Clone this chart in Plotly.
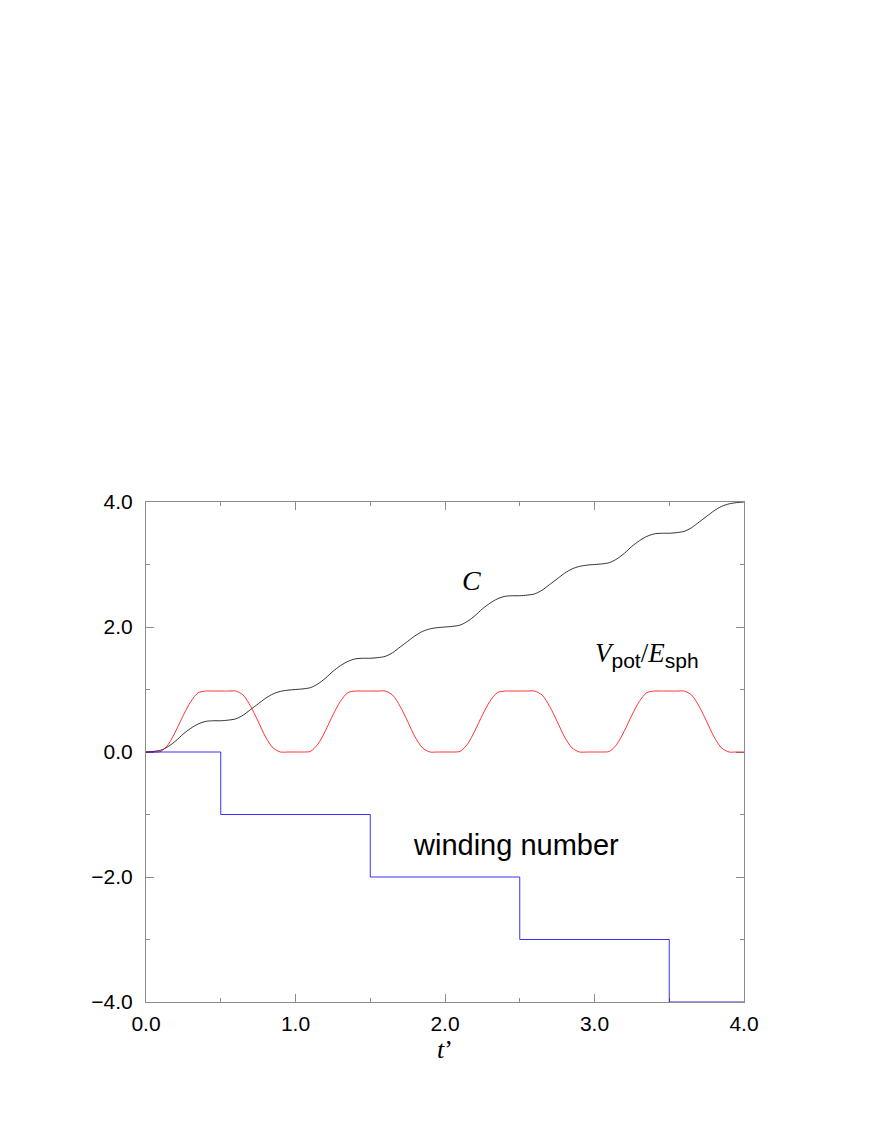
import plotly.graph_objects as go

# time grid t'
T = [0.00, 0.05, 0.10, 0.15, 0.20, 0.25, 0.30, 0.35, 0.40, 0.45,
     0.50, 0.55, 0.60, 0.65, 0.70, 0.75, 0.80, 0.85, 0.90, 0.95,
     1.00, 1.05, 1.10, 1.15, 1.20, 1.25, 1.30, 1.35, 1.40, 1.45,
     1.50, 1.55, 1.60, 1.65, 1.70, 1.75, 1.80, 1.85, 1.90, 1.95,
     2.00, 2.05, 2.10, 2.15, 2.20, 2.25, 2.30, 2.35, 2.40, 2.45,
     2.50, 2.55, 2.60, 2.65, 2.70, 2.75, 2.80, 2.85, 2.90, 2.95,
     3.00, 3.05, 3.10, 3.15, 3.20, 3.25, 3.30, 3.35, 3.40, 3.45,
     3.50, 3.55, 3.60, 3.65, 3.70, 3.75, 3.80, 3.85, 3.90, 3.95,
     4.00]

# Chern-Simons number C
C = [0.00, 0.01, 0.03, 0.09, 0.18, 0.29, 0.38, 0.45, 0.49, 0.50,
     0.50, 0.51, 0.53, 0.59, 0.68, 0.77, 0.86, 0.93, 0.97, 0.99,
     1.00, 1.01, 1.03, 1.09, 1.18, 1.29, 1.38, 1.45, 1.49, 1.50,
     1.50, 1.51, 1.53, 1.59, 1.68, 1.77, 1.86, 1.93, 1.97, 1.99,
     2.00, 2.01, 2.03, 2.09, 2.18, 2.29, 2.38, 2.45, 2.49, 2.50,
     2.50, 2.51, 2.53, 2.59, 2.68, 2.77, 2.86, 2.93, 2.97, 2.99,
     3.00, 3.01, 3.03, 3.09, 3.18, 3.29, 3.38, 3.45, 3.49, 3.50,
     3.50, 3.51, 3.53, 3.59, 3.68, 3.77, 3.86, 3.93, 3.97, 3.99,
     4.00]

# V_pot / E_sph
V = [0.00, 0.00, 0.01, 0.125, 0.34, 0.59, 0.81, 0.95, 0.975, 0.975,
     0.975, 0.975, 0.975, 0.91, 0.73, 0.49, 0.24, 0.065, 0.00, 0.00,
     0.00, 0.00, 0.01, 0.125, 0.34, 0.59, 0.81, 0.95, 0.975, 0.975,
     0.975, 0.975, 0.975, 0.91, 0.73, 0.49, 0.24, 0.065, 0.00, 0.00,
     0.00, 0.00, 0.01, 0.125, 0.34, 0.59, 0.81, 0.95, 0.975, 0.975,
     0.975, 0.975, 0.975, 0.91, 0.73, 0.49, 0.24, 0.065, 0.00, 0.00,
     0.00, 0.00, 0.01, 0.125, 0.34, 0.59, 0.81, 0.95, 0.975, 0.975,
     0.975, 0.975, 0.975, 0.91, 0.73, 0.49, 0.24, 0.065, 0.00, 0.00,
     0.00]

# winding number (step function)
W_T = [0.0, 0.5, 1.5, 2.5, 3.5, 4.0]
W = [0, -1, -2, -3, -4, -4]

X_TICKS = [0, 1, 2, 3, 4]
Y_TICKS = [-4, -2, 0, 2, 4]

SANS = "Liberation Sans, Arial, sans-serif"
SERIF = "Liberation Serif, Times New Roman, serif"
FRAME = '#8c8c8c'

fig = go.Figure()

fig.add_trace(go.Scatter(
    x=T, y=C, mode='lines', name='C',
    line=dict(color='black', width=0.8, shape='spline', smoothing=0.8)
))
fig.add_trace(go.Scatter(
    x=T, y=V, mode='lines', name='V/E',
    line=dict(color='#ff0000', width=0.8, shape='spline', smoothing=0.8)
))
fig.add_trace(go.Scatter(
    x=W_T, y=W, mode='lines', name='winding number',
    line=dict(color='#0000ff', width=0.8, shape='hv')
))

# curve labels
sub = "<sub><span style='font-family:Liberation Sans;font-size:21px'>{}</span></sub>"
fig.add_annotation(x=2.18, y=2.75, text="<i>C</i>", showarrow=False,
                   font=dict(family=SERIF, size=28, color='black'))
fig.add_annotation(x=3.35, y=1.55,
                   text="<i>V</i>" + sub.format("pot") + "/<i>E</i>" + sub.format("sph"),
                   showarrow=False,
                   font=dict(family=SERIF, size=27, color='black'))
fig.add_annotation(x=2.475, y=-1.49, text="winding number", showarrow=False,
                   font=dict(family=SANS, size=29, color='black'))

axis_common = dict(
    showline=True, linecolor=FRAME, linewidth=1,
    mirror='ticks', ticks='inside', ticklen=8, tickcolor=FRAME,
    showgrid=False, zeroline=False, layer='below traces',
    tickfont=dict(family=SANS, size=21, color='black'),
    tickformat='.1f',
)

fig.update_xaxes(
    range=[0, 4], tickvals=X_TICKS, ticklabelstandoff=3,
    minor=dict(dtick=0.5, ticks='inside', ticklen=4, tickcolor=FRAME),
    title=dict(text="<i>t</i>’", font=dict(family=SERIF, size=26, color='black'),
               standoff=2),
    **axis_common
)
fig.update_yaxes(
    range=[-4, 4], tickvals=Y_TICKS, ticklabelstandoff=8,
    minor=dict(dtick=1, ticks='inside', ticklen=4, tickcolor=FRAME),
    **axis_common
)

fig.update_layout(
    width=872, height=1128,
    margin=dict(l=138, r=136, t=494, b=134),
    paper_bgcolor='white', plot_bgcolor='white',
    showlegend=False,
)

fig.write_html("out.html")
